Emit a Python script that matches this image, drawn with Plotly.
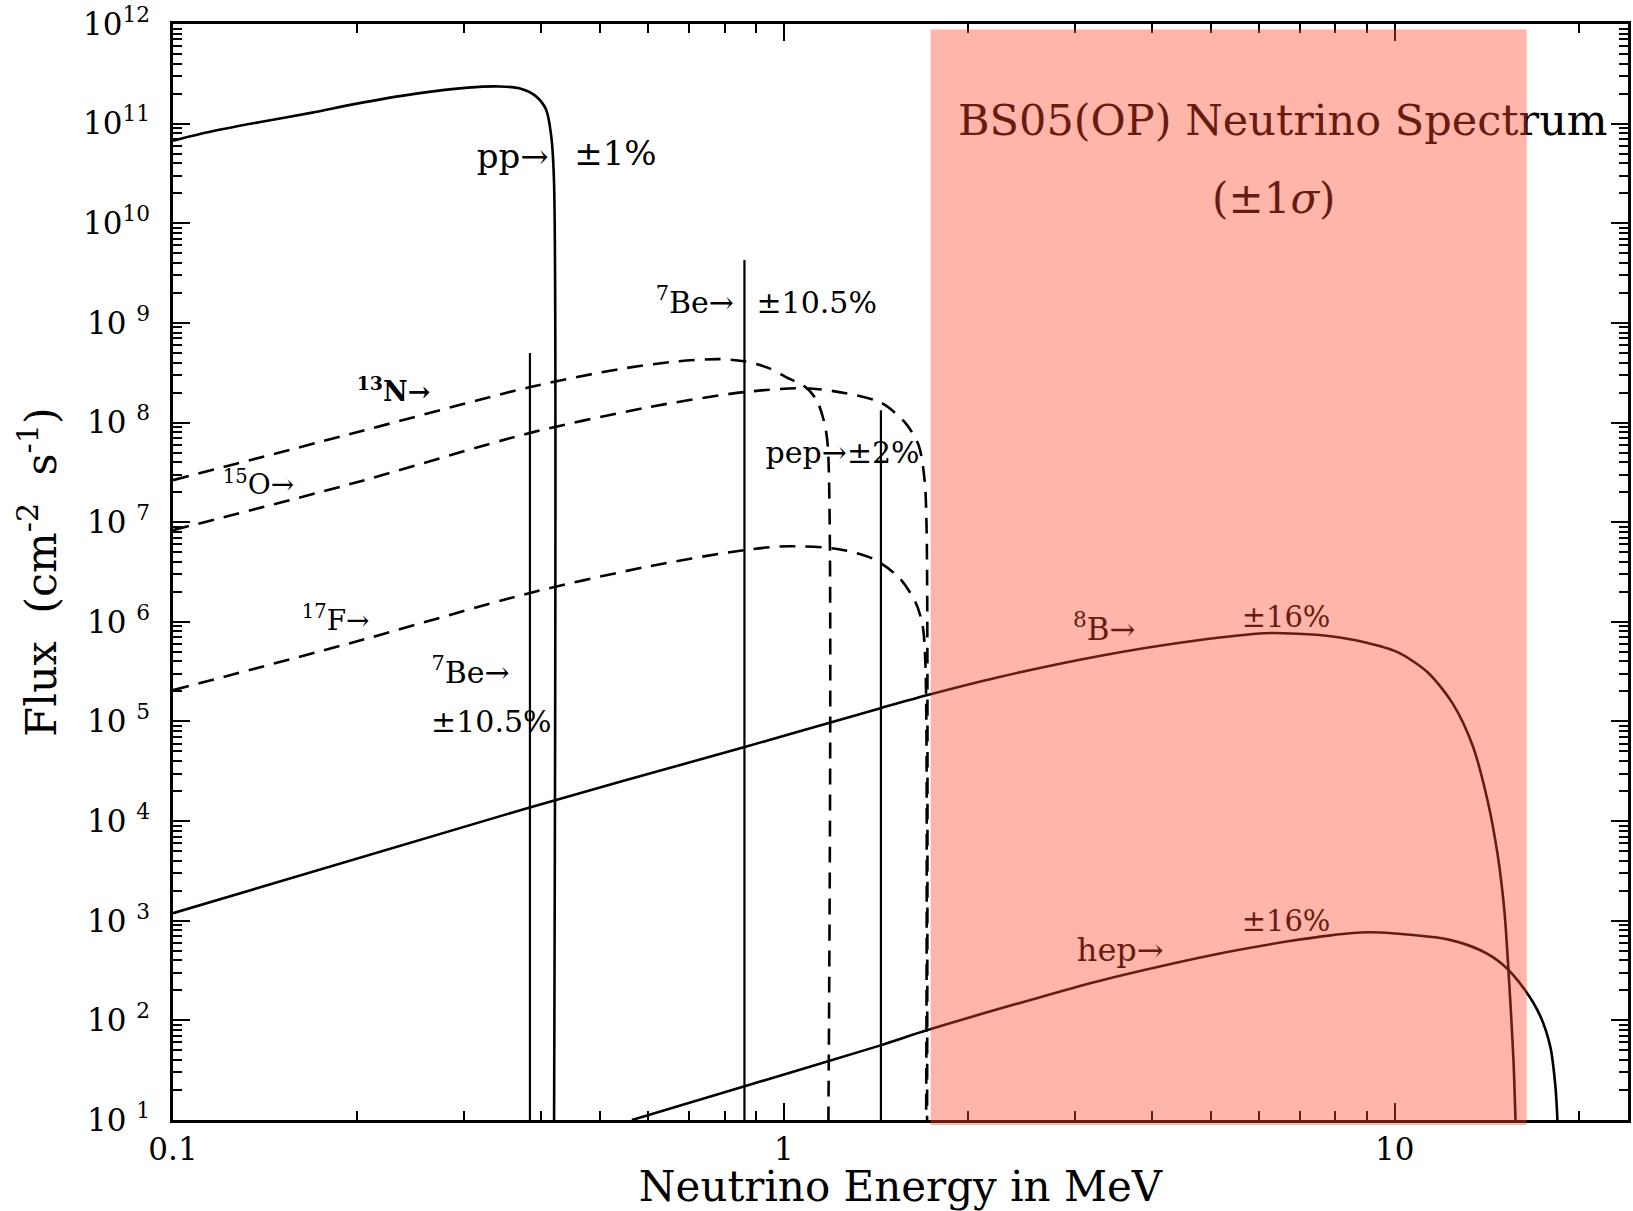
import plotly.graph_objects as go

# ---------------- data ----------------
# continuum spectra: energy (MeV) and flux (cm^-2 s^-1 MeV^-1)
pp_E = [0.100, 0.114, 0.139, 0.169, 0.198, 0.250, 0.304, 0.342, 0.370, 0.392, 0.408, 0.416, 0.4205, 0.4206]
pp_F = [6.75e10, 8.2e10, 1.04e11, 1.29e11, 1.57e11, 2.0e11, 2.30e11, 2.36e11, 2.25e11, 1.90e11, 1.39e11, 7.6e10, 2.6e10, 10]

n13_E = [0.100, 0.195, 0.383, 0.538, 0.674, 0.783, 0.860, 0.945, 1.008, 1.086, 1.132, 1.162, 1.180, 1.183]
n13_F = [2.64e7, 7.66e7, 2.26e8, 3.44e8, 4.13e8, 4.33e8, 4.13e8, 3.52e8, 2.86e8, 2.26e8, 1.68e8, 1.06e8, 5.9e7, 10]

o15_E = [0.100, 0.195, 0.383, 0.602, 0.860, 1.086, 1.263, 1.446, 1.582, 1.662, 1.700, 1.713, 1.716]
o15_F = [8.32e6, 2.41e7, 7.83e7, 1.43e8, 2.02e8, 2.21e8, 1.97e8, 1.57e8, 9.86e7, 5.93e7, 2.64e7, 8.3e6, 10]

f17_E = [0.100, 0.195, 0.383, 0.602, 0.860, 1.019, 1.230, 1.403, 1.547, 1.643, 1.687, 1.706, 1.710]
f17_F = [2.06e5, 6.10e5, 1.94e6, 3.61e6, 5.24e6, 5.74e6, 5.36e6, 4.26e6, 2.74e6, 1.57e6, 9.25e5, 3.5e5, 10]

b8_E = [0.100, 0.385, 0.860, 1.440, 1.713, 2.245, 3.27, 4.765, 6.13, 6.94, 7.86, 8.93, 10.11, 11.32, 12.44,
        13.41, 14.19, 14.73, 15.12, 15.41, 15.65, 15.77]
b8_F = [1.19e3, 1.38e4, 5.51e4, 1.36e5, 1.83e5, 2.78e5, 4.52e5, 6.53e5, 7.69e5, 7.59e5, 7.16e5, 6.24e5, 4.96e5,
        3.12e5, 1.52e5, 5.77e4, 1.62e4, 4.75e3, 1.27e3, 224, 39.6, 10]

hep_E = [0.564, 0.860, 1.440, 1.713, 2.62, 3.27, 4.21, 5.40, 6.69, 7.86, 9.03, 10.11, 12.21, 13.82, 15.01,
         16.31, 17.32, 17.99, 18.33, 18.47]
hep_F = [10, 21.7, 56.1, 79.4, 170, 247, 357, 493, 621, 713, 765, 740, 650, 505, 365,
         205, 110, 53.6, 21.7, 10]

# line spectra: 7Be (0.384, 0.862 MeV) and pep (1.442 MeV), flux in cm^-2 s^-1
line_E = [0.384, 0.862, 1.442]
line_F = [4.98e8, 4.27e9, 1.33e8]
flux_floor = 10  # bottom of the flux axis

# highlighted energy band (MeV)
band_E = [1.739, 16.45]

# axis ticks
x_tickvals = [0.1, 1, 10]
x_ticktext = ["0.1", "1", "10"]
y_exponents = list(range(1, 13))

# ---------------- labels (placement) ----------------
lab_text = ["pp→", "±1%", "<sup>7</sup>Be→", "±10.5%", "<b><sup>13</sup>N→</b>",
            "<sup>15</sup>O→", "pep→±2%", "<sup>17</sup>F→", "<sup>7</sup>Be→", "±10.5%",
            "<sup>8</sup>B→", "±16%", "hep→", "±16%",
            "BS05(OP) Neutrino Spectrum", "(±1<i>σ</i>)"]
lab_E = [0.360, 0.530, 0.715, 1.132, 0.2296, 0.138, 1.248, 0.1846, 0.307, 0.332,
         3.346, 6.64, 3.554, 6.64, 6.56, 6.34]
lab_F = [4.4e10, 4.7e10, 1.51e9, 1.51e9, 1.93e8, 2.24e7, 4.7e7, 9.7e5, 2.91e5, 9.4e4,
         7.9e5, 1.04e6, 471, 942, 9.9e10, 1.6e10]
lab_size = [34, 34, 30, 30, 27, 28, 30, 28, 30, 30, 31, 29, 32, 29, 43, 42]

FONT = "DejaVu Serif"
fig = go.Figure()

solid = dict(color="black", width=2.6)
dashed = dict(color="black", width=2.6, dash="16px,10px")

for E, F in [(pp_E, pp_F), (b8_E, b8_F), (hep_E, hep_F)]:
    fig.add_trace(go.Scatter(x=E, y=F, mode="lines", line=dict(**solid, shape="spline", smoothing=0.8),
                             hoverinfo="skip", showlegend=False))
for E, F in [(n13_E, n13_F), (o15_E, o15_F), (f17_E, f17_F)]:
    fig.add_trace(go.Scatter(x=E, y=F, mode="lines", line=dict(**dashed, shape="spline", smoothing=0.8),
                             hoverinfo="skip", showlegend=False))
for E, F in zip(line_E, line_F):
    fig.add_trace(go.Scatter(x=[E, E], y=[F, flux_floor], mode="lines",
                             line=dict(color="black", width=2.2), hoverinfo="skip", showlegend=False))

fig.add_trace(go.Scatter(x=lab_E, y=lab_F, mode="text", text=lab_text, textposition="middle center",
                         textfont=dict(family=FONT, size=lab_size, color="black"),
                         hoverinfo="skip", showlegend=False))

fig.add_shape(type="rect", xref="x", yref="paper", x0=band_E[0], x1=band_E[1], y0=-0.0045, y1=0.995,
              fillcolor="rgba(255,70,40,0.40)", line=dict(width=0), layer="above")

x_minor = [k * 10.0 ** d for d in (-1, 0, 1) for k in range(2, 10) if k * 10.0 ** d < 24]
y_minor = [k * 10.0 ** d for d in range(1, 12) for k in range(2, 10)]

axis_common = dict(ticks="inside", ticklen=17, tickwidth=2, tickcolor="black",
                   showline=True, linewidth=2.5, linecolor="black", mirror="allticks",
                   showgrid=False, zeroline=False,
                   tickfont=dict(family=FONT, size=31, color="black"))

fig.update_xaxes(type="log", range=[-1, 1.382], tickmode="array", tickvals=x_tickvals, ticktext=x_ticktext,
                 minor=dict(tickmode="array", tickvals=x_minor, ticks="inside", ticklen=9, tickwidth=2,
                            tickcolor="black", showgrid=False),
                 title=dict(text="Neutrino Energy in MeV", font=dict(family=FONT, size=42, color="black"),
                            standoff=9),
                 **axis_common)
fig.update_yaxes(type="log", range=[1, 12], tickmode="array",
                 tickvals=[10.0 ** e for e in y_exponents],
                 ticktext=[("10<sup>%d</sup>" % e) if e >= 10 else ("10\u00a0<sup>%d</sup>" % e) for e in y_exponents],
                 ticklabelstandoff=14,
                 minor=dict(tickmode="array", tickvals=y_minor, ticks="inside", ticklen=9, tickwidth=2,
                            tickcolor="black", showgrid=False),
                 title=dict(text="Flux\u00a0\u00a0(cm<sup>-2</sup>\u00a0\u00a0s<sup>-1</sup>)",
                            font=dict(family=FONT, size=43, color="black"), standoff=13),
                 **axis_common)

fig.update_layout(width=1633, height=1211, margin=dict(l=173, r=2, t=24, b=91),
                  paper_bgcolor="white", plot_bgcolor="white", showlegend=False)

fig.write_html("out.html")
